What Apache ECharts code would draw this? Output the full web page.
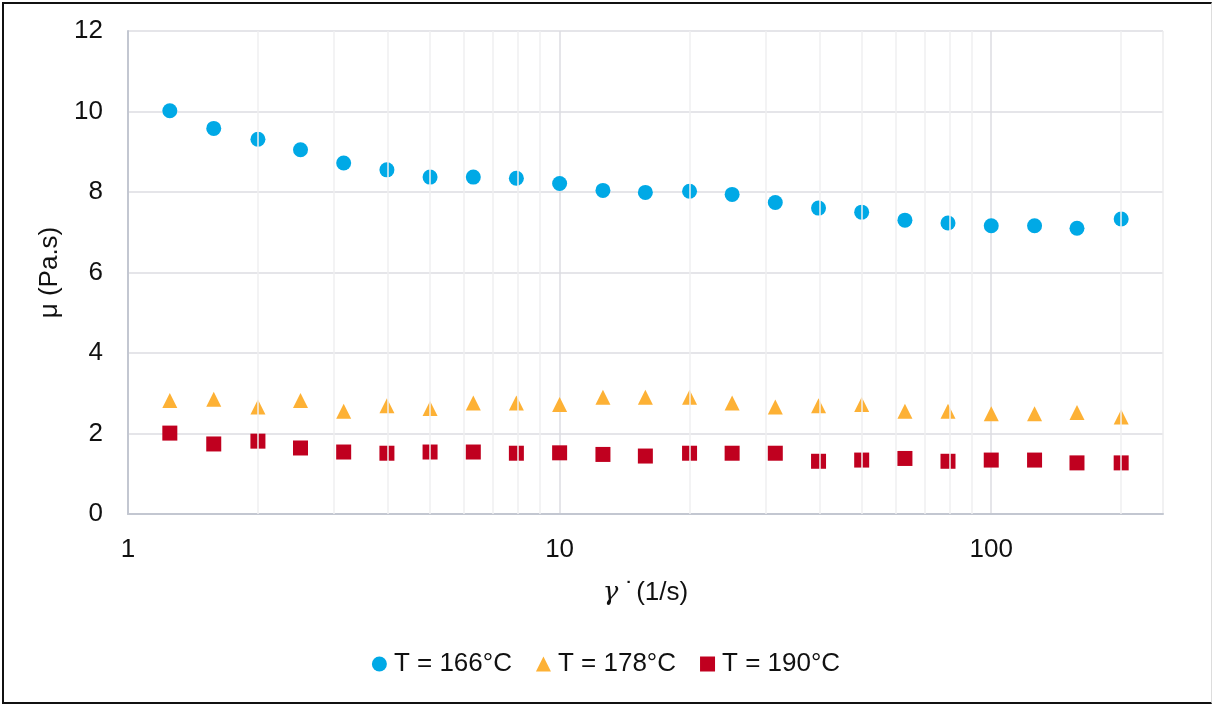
<!DOCTYPE html>
<html>
<head>
<meta charset="utf-8">
<script src="https://cdn.jsdelivr.net/npm/echarts@6/dist/echarts.min.js"></script>
<style>
  html, body { margin: 0; padding: 0; background: #fff; }
  #wrap { position: relative; width: 1212px; height: 704px; }
  #chart { position: absolute; left: 0; top: 0; width: 1212px; height: 704px; }
  #frame {
    position: absolute; left: 2px; top: 2px; width: 1207px; height: 698px;
    border-left: 2px solid #111; border-top: 2px solid #111; border-bottom: 2px solid #111;
    border-right: 1px solid #ddd; pointer-events: none;
  }
</style>
</head>
<body>
<div id="wrap">
  <div id="chart"></div>
  <div id="frame"></div>
</div>
<script>
// Shear rate (1/s) at which viscosity was measured
const shearRate = [1.25, 1.58, 2.0, 2.51, 3.16, 3.98, 5.01, 6.31, 7.94, 10.0, 12.6, 15.8,
                   20.0, 25.1, 31.6, 39.8, 50.1, 63.1, 79.4, 100, 126, 158, 200];
// Viscosity (Pa.s) at each temperature
const mu166 = [10.02, 9.58, 9.31, 9.05, 8.72, 8.55, 8.37, 8.37, 8.34, 8.21, 8.04, 7.99,
               8.02, 7.94, 7.74, 7.60, 7.50, 7.30, 7.23, 7.16, 7.16, 7.10, 7.33];
const mu178 = [2.82, 2.85, 2.66, 2.82, 2.55, 2.69, 2.62, 2.76, 2.76, 2.72, 2.90, 2.90,
               2.90, 2.76, 2.66, 2.69, 2.72, 2.55, 2.55, 2.49, 2.49, 2.52, 2.41];
const mu190 = [2.01, 1.74, 1.81, 1.64, 1.54, 1.51, 1.54, 1.54, 1.51, 1.52, 1.48, 1.44,
               1.51, 1.51, 1.51, 1.31, 1.34, 1.38, 1.31, 1.34, 1.34, 1.27, 1.27];
const seriesNames = ['T = 166°C', 'T = 178°C', 'T = 190°C'];
// Axis ticks
const xTickLabels = [1, 10, 100];
const xMinorGrid = [2, 3, 4, 5, 6, 7, 8, 9, 20, 30, 40, 50, 60, 70, 80, 90, 200];
const yTicks = [0, 2, 4, 6, 8, 10, 12];

const FONT = "'Liberation Sans Narrow', 'Arial Narrow', 'Liberation Sans', Arial, sans-serif";
const pairs = ys => shearRate.map((x, i) => [x, ys[i]]);

const chart = echarts.init(document.getElementById('chart'), null, { renderer: 'canvas' });

const markerStyle = (color) => ({ color: color, opacity: 1 });

chart.setOption({
  animation: false,
  textStyle: { fontFamily: FONT },
  grid: { left: 128, right: 49, top: 31, bottom: 190, containLabel: false },
  legend: {
    bottom: 22,
    left: 'center',
    itemWidth: 15,
    itemHeight: 15,
    itemGap: 24,
    textStyle: { fontFamily: FONT, fontSize: 26, color: '#111', padding: [0, 0, 0, 2] },
    data: [
      { name: seriesNames[0], icon: 'circle' },
      { name: seriesNames[1], icon: 'triangle' },
      { name: seriesNames[2], icon: 'rect' }
    ]
  },
  xAxis: {
    type: 'log',
    logBase: 10,
    min: 1,
    max: 250,
    name: '{g|γ}{d| ˙}{t|(1/s)}',
    nameLocation: 'middle',
    nameGap: 66,
    nameTextStyle: {
      rich: {
        g: { fontFamily: "'DejaVu Serif', serif", fontStyle: 'italic', fontSize: 26, color: '#111' },
        d: { fontFamily: FONT, fontSize: 26, color: '#111', padding: [0, 2, 0, 0] },
        t: { fontFamily: FONT, fontSize: 26, color: '#111' }
      }
    },
    axisLine: { show: true, lineStyle: { color: '#c3c7d1', width: 2 } },
    axisTick: { show: false },
    axisLabel: {
      fontFamily: FONT, fontSize: 26, color: '#111', margin: 23,
      formatter: v => (xTickLabels.some(t => Math.abs(t - v) < 1e-6 * t) ? String(Math.round(v)) : '')
    },
    splitLine: { show: true, lineStyle: { color: ['#dcdde2', '#dcdde2', '#dcdde2', '#ececee'], width: 1.5 } },
    minorTick: { show: false },
    minorSplitLine: { show: false }
  },
  yAxis: {
    type: 'value',
    min: yTicks[0],
    max: yTicks[yTicks.length - 1],
    interval: 2,
    name: 'μ (Pa.s)',
    nameLocation: 'middle',
    nameGap: 54,
    nameTextStyle: { fontFamily: FONT, fontSize: 26, color: '#111' },
    axisLine: { show: true, lineStyle: { color: '#c3c7d1', width: 2 } },
    axisTick: { show: false },
    axisLabel: { fontFamily: FONT, fontSize: 26, color: '#111', margin: 25 },
    splitLine: { show: true, lineStyle: { color: '#dcdde2', width: 1.5 } }
  },
  series: [
    {
      // minor vertical grid lines of the log axis
      type: 'scatter',
      data: [],
      silent: true,
      z: 1,
      markLine: {
        silent: true,
        symbol: 'none',
        label: { show: false },
        lineStyle: { color: '#efeff1', width: 1.5, type: 'solid' },
        data: xMinorGrid.map(v => ({ xAxis: v }))
      }
    },
    {
      name: seriesNames[0], type: 'scatter', symbol: 'circle', symbolSize: 15,
      itemStyle: markerStyle('#00a9e6'), data: pairs(mu166), z: 3
    },
    {
      name: seriesNames[1], type: 'scatter', symbol: 'triangle', symbolSize: 15,
      itemStyle: markerStyle('#fdb135'), data: pairs(mu178), z: 3
    },
    {
      name: seriesNames[2], type: 'scatter', symbol: 'rect', symbolSize: 15,
      itemStyle: markerStyle('#c0001f'), data: pairs(mu190), z: 3
    }
  ]
});
</script>
</body>
</html>
